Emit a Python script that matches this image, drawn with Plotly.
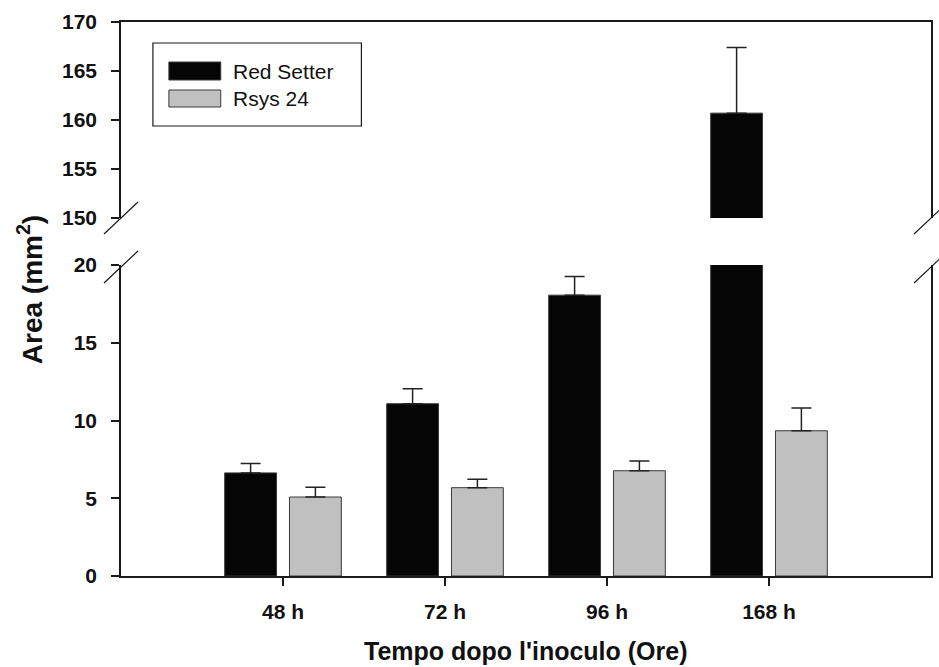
import plotly.graph_objects as go

categories = ["48 h", "72 h", "96 h", "168 h"]
series_names = ["Red Setter", "Rsys 24"]
red_setter = [6.63, 11.08, 18.06, 160.7]
red_setter_err = [0.60, 0.96, 1.20, 6.7]
rsys24 = [5.08, 5.68, 6.77, 9.34]
rsys24_err = [0.62, 0.54, 0.63, 1.46]
lower_ticks = [0, 5, 10, 15, 20]
upper_ticks = [150, 155, 160, 165, 170]

colors = ["#050505", "#c0c0c0"]
FONT = "Liberation Sans, Arial, sans-serif"
LINE = "#1a1a1a"
TICKFONT = dict(family=FONT, size=21, color="#111111", weight="bold")

x_idx = list(range(len(categories)))
fig = go.Figure()
series = [(red_setter, red_setter_err), (rsys24, rsys24_err)]
offsets = [-0.36, 0.04]
for (vals, errs), name, col, off in zip(series, series_names, colors, offsets):
    for yax in ["y", "y2"]:
        fig.add_trace(go.Bar(
            x=x_idx, y=vals, name=name, xaxis="x" if yax == "y" else "x2", yaxis=yax,
            width=0.32, offset=off,
            marker=dict(color=col, line=dict(color="#3a3a3a", width=1)),
            error_y=dict(type="data", array=errs, arrayminus=[0] * len(errs), symmetric=False,
                         color="#222222", thickness=1.5, width=10),
            showlegend=False,
        ))

px0, px1, py0, py1 = 121, 933, 22, 576
def px(x):
    return (x - px0) / (px1 - px0)
def py(y):
    return (py1 - y) / (py1 - py0)

lower_top = py(265)
upper_bot = py(218)

fig.update_layout(
    width=939, height=667,
    margin=dict(l=px0, r=939 - px1, t=py0, b=667 - py1),
    paper_bgcolor="white", plot_bgcolor="white",
    font=dict(family=FONT, size=20, color="#111111"),
    barmode="overlay",
    xaxis=dict(domain=[0, 1], range=[-1, 4], tickvals=x_idx, ticktext=categories,
               showline=True, linecolor=LINE, linewidth=1.5, ticks="outside", ticklen=8,
               tickwidth=1.5, tickcolor=LINE, showgrid=False, zeroline=False,
               tickfont=TICKFONT, ticklabelstandoff=8, anchor="y"),
    yaxis=dict(domain=[0, lower_top], range=[0, 20], tickvals=lower_ticks,
               showline=True, mirror=True, linecolor=LINE, linewidth=1.5, ticks="outside",
               ticklen=8, tickwidth=1.5, tickcolor=LINE, showgrid=False, zeroline=False,
               tickfont=TICKFONT, ticklabelstandoff=10, anchor="x"),
    xaxis2=dict(domain=[0, 1], range=[-1, 4], showticklabels=False, ticks="",
                showline=True, linecolor=LINE, linewidth=1.5, side="top",
                showgrid=False, zeroline=False, anchor="y2", matches="x"),
    yaxis2=dict(domain=[upper_bot, 1], range=[150, 170], tickvals=upper_ticks,
                showline=True, mirror=True, linecolor=LINE, linewidth=1.5, ticks="outside",
                ticklen=8, tickwidth=1.5, tickcolor=LINE, showgrid=False, zeroline=False,
                tickfont=TICKFONT, ticklabelstandoff=10, anchor="x2"),
)

shapes = []
# axis break slashes
for xc in [0.0, 1.0]:
    for yc in [217, 266]:
        shapes.append(dict(type="line", xref="paper", yref="paper",
                           x0=xc - 17 / 812, y0=py(yc + 17), x1=xc + 17 / 812, y1=py(yc - 15),
                           line=dict(color=LINE, width=1.2)))
# legend box
shapes.append(dict(type="rect", xref="paper", yref="paper",
                   x0=px(153), x1=px(362), y0=py(126), y1=py(43),
                   line=dict(color=LINE, width=1.2), fillcolor="white"))
sw = [(62, 80), (90, 107)]
annotations = []
for (t, b), col, name in zip(sw, colors, series_names):
    shapes.append(dict(type="rect", xref="paper", yref="paper",
                       x0=px(169), x1=px(221), y0=py(b), y1=py(t),
                       line=dict(color="#3a3a3a", width=1), fillcolor=col))
    annotations.append(dict(text=name, xref="paper", yref="paper", x=px(231), y=py((t + b) / 2),
                            xanchor="left", yanchor="middle", showarrow=False,
                            font=dict(family=FONT, size=21, color="#111111")))

annotations.append(dict(text="<b>Tempo dopo l'inoculo (Ore)</b>", xref="paper", yref="paper",
                        x=0.5, y=py(651), xanchor="center", yanchor="middle", showarrow=False,
                        font=dict(family=FONT, size=25, color="#111111")))
annotations.append(dict(text="<b>Area (mm<sup>2</sup>)</b>", xref="paper", yref="paper",
                        x=px(30), y=py(290), xanchor="center", yanchor="middle", showarrow=False,
                        textangle=-90, font=dict(family=FONT, size=28, color="#111111")))

fig.update_layout(shapes=shapes, annotations=annotations)

fig.write_html("out.html")
